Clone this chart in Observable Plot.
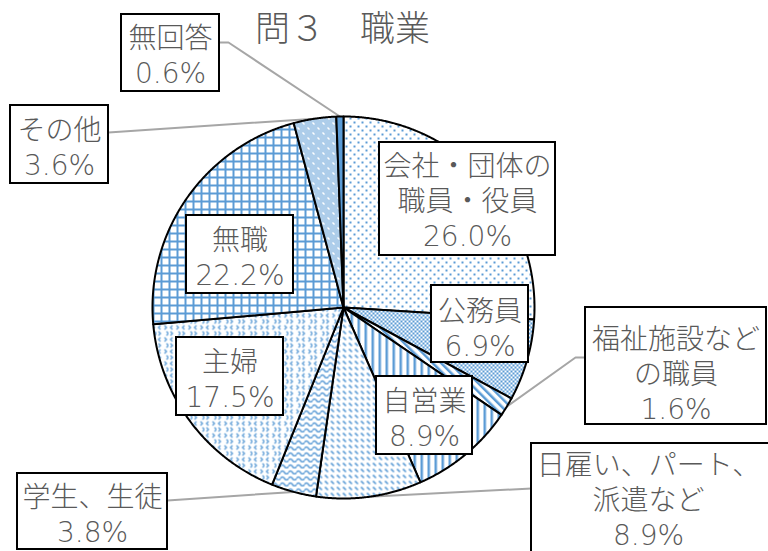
<!DOCTYPE html>
<html><head><meta charset="utf-8">
<script src="https://cdn.jsdelivr.net/npm/d3@7"></script>
<script src="https://cdn.jsdelivr.net/npm/@observablehq/plot@0.6"></script>
<style>body{margin:0;background:#fff}#chart{width:768px;height:551px;overflow:hidden}</style>
</head><body><div id="chart"></div>
<script>
// ---- data ----
const categories = ["会社・団体の職員・役員","公務員","福祉施設などの職員","自営業","日雇い、パート、派遣など","学生、生徒","主婦","無職","その他","無回答"];
const labelTexts = ["会社・団体の\n職員・役員","公務員","福祉施設など\nの職員","自営業","日雇い、パート、\n派遣など","学生、生徒","主婦","無職","その他","無回答"];
const values = [26.0, 6.9, 1.6, 8.9, 8.9, 3.8, 17.5, 22.2, 3.6, 0.6];
const title = "問３　職業";

// ---- layout ----
const W = 768, H = 551;
const CX = 343, CY = 307, R = 191;
// label boxes: [x1, y1, x2, y2, textX, textY]
const boxLayout = [
  [379, 142, 555, 255, 467, 199.5],
  [431, 285, 528, 362, 479.5, 327],
  [585, 307, 766, 424, 675.5, 372],
  [376, 376, 472, 454, 424, 416.5],
  [531, 443, 790, 580, 648, 498],
  [17, 473, 167, 549, 92, 513],
  [176, 337, 283, 415, 229.5, 377.5],
  [186, 215, 293, 293, 239.5, 255.5],
  [10, 105, 108, 183, 59, 146],
  [121, 14, 219, 91, 170, 53.5]
];
// leader line start points (from box), per slice index
const leaderLayout = {
  9: [[219, 42], [228, 42]],
  8: [[108, 132]],
  2: [[585, 357], [575, 357]],
  4: [[531, 488]],
  5: [[167, 500]]
};

const BLUE = "#5b9bd5";
const fills = ["url(#pat0)","url(#pat1)","url(#pat2)","url(#pat3)","url(#pat4)","url(#pat5)","url(#pat6)","url(#pat7)","url(#pat8)", BLUE];

const arcs = d3.pie().sort(null).value(d => d)(values);
const pt = (a, r) => ({x: CX + r * Math.sin(a), y: CY - r * Math.cos(a)});

const sliceMarks = arcs.map((a, i) => {
  const pts = [{x: CX, y: CY}];
  const n = Math.max(2, Math.ceil((a.endAngle - a.startAngle) / 0.005));
  for (let k = 0; k <= n; k++) pts.push(pt(a.startAngle + (a.endAngle - a.startAngle) * k / n, R));
  return Plot.line(pts, {x: "x", y: "y", fill: fills[i], stroke: "#000", strokeWidth: 2, strokeLinejoin: "round", curve: "linear-closed"});
});

const leaders = [];
Object.entries(leaderLayout).forEach(([i, starts]) => {
  const a = arcs[+i];
  starts.forEach(([x, y]) => leaders.push({id: i, x, y}));
  const e = pt((a.startAngle + a.endAngle) / 2, R);
  leaders.push({id: i, x: e.x, y: e.y});
});

const boxes = boxLayout.map((b, i) => ({
  x1: b[0], y1: b[1], x2: b[2], y2: b[3], tx: b[4], ty: b[5],
  text: labelTexts[i] + "\n" + values[i].toFixed(1) + "%"
}));

const FONT = "'DejaVu Sans', 'Noto Sans CJK JP', sans-serif";

const svg = Plot.plot({
  width: W, height: H,
  margin: 0,
  x: {domain: [0, W], range: [0, W], axis: null},
  y: {domain: [0, H], range: [0, H], axis: null},
  style: {background: "#fff", fontFamily: FONT},
  marks: [
    Plot.line(leaders, {x: "x", y: "y", z: "id", stroke: "#a6a6a6", strokeWidth: 2}),
    ...sliceMarks,
    Plot.rect(boxes, {x1: "x1", x2: "x2", y1: "y1", y2: "y2", fill: "#fff", stroke: "#000", strokeWidth: 2}),
    Plot.text(boxes, {x: "tx", y: "ty", text: "text", fontSize: 28, fontWeight: 300, lineHeight: 1.25, fill: "#595959", fontFamily: FONT}),
    Plot.text([title], {x: () => 342, y: () => 29, text: d => d, fontSize: 35, fontWeight: 300, fill: "#595959", fontFamily: FONT})
  ]
});

// ---- patterns ----
const defs = d3.create("svg:defs");
function pat(id, w, h, bg = "#fff") {
  const p = defs.append("pattern").attr("id", id).attr("patternUnits", "userSpaceOnUse").attr("width", w).attr("height", h);
  p.append("rect").attr("width", w).attr("height", h).attr("fill", bg);
  return p;
}
function rect(p, x, y, w, h, f = BLUE) { p.append("rect").attr("x", x).attr("y", y).attr("width", w).attr("height", h).attr("fill", f); }
// 0 dots
let p = pat("pat0", 8, 8); rect(p, 1, 1, 2, 2); rect(p, 5, 5, 2, 2);
// 1 checker
p = pat("pat1", 4, 4); rect(p, 0, 0, 2, 2); rect(p, 2, 2, 2, 2);
// 2 wide downward diagonal
p = pat("pat2", 6, 6).attr("patternTransform", "rotate(-45)"); rect(p, 0, 0, 2.5, 6);
// 3 vertical stripes
p = pat("pat3", 7, 7); rect(p, 0, 0, 2.5, 7);
// 4 dashed downward diagonal
p = pat("pat4", 6, 6); p.append("line").attr("x1", 0.5).attr("y1", 0.5).attr("x2", 3.5).attr("y2", 3.5).attr("stroke", BLUE).attr("stroke-width", 1.6);
// 5 wave
p = pat("pat5", 8, 6); p.append("path").attr("d", "M0,4 Q2,1 4,4 T8,4").attr("fill", "none").attr("stroke", BLUE).attr("stroke-width", 1.5);
// 6 divot
p = pat("pat6", 12, 12);
p.append("path").attr("d", "M4,1 L2,3 L4,5 M10,7 L12,9 L10,11").attr("fill", "none").attr("stroke", BLUE).attr("stroke-width", 1.3);
p.append("path").attr("d", "M8,1 L10,3 L8,5 M2,7 L4,9 L2,11").attr("fill", "none").attr("stroke", BLUE).attr("stroke-width", 1.3);
// 7 grid
p = pat("pat7", 8, 8); rect(p, 0, 0, 2, 8); rect(p, 0, 0, 8, 2);
// 8 checker with white dots
p = pat("pat8", 10, 10);
for (let yy = 0; yy < 10; yy++) for (let xx = 0; xx < 10; xx++) if ((xx + yy) % 2 === 0) rect(p, xx, yy, 1, 1);
rect(p, 2, 2, 2, 2, "#fff"); rect(p, 7, 7, 2, 2, "#fff");

svg.insertBefore(defs.node(), svg.firstChild);
document.getElementById("chart").appendChild(svg);
</script>
</body></html>
